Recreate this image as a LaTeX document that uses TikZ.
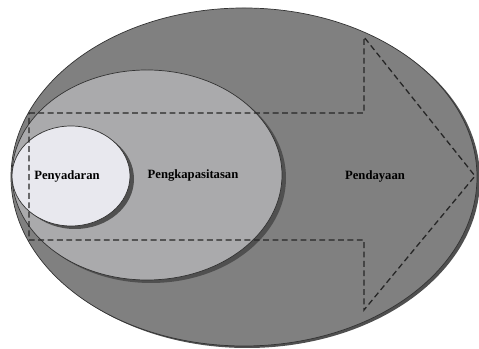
\documentclass[tikz,border=0pt]{standalone}
\usepackage{fontspec}
\setmainfont{Liberation Serif}
\definecolor{outergray}{RGB}{128,128,128}
\definecolor{midgray}{RGB}{170,170,172}
\definecolor{innergray}{RGB}{232,232,238}
\definecolor{shadowgray}{RGB}{80,80,80}
\tikzset{
	ring/.style={draw=black!80,line width=0.6pt},
	shade/.style={fill=shadowgray,draw=none},
	lbl/.style={font=\bfseries\fontsize{10.8}{13}\selectfont}
}

\begin{document}
\begin{tikzpicture}[x=0.03cm,y=0.03cm]
	\useasboundingbox (0,0) rectangle (479,349);
	% outer
	\fill[shade] (247,170) ellipse [x radius=233,y radius=169];
	\draw[ring,fill=outergray] (244,172) ellipse [x radius=233,y radius=169];
	% middle
	\fill[shade] (151,171) ellipse [x radius=135,y radius=105];
	\draw[ring,fill=midgray] (147,174) ellipse [x radius=135,y radius=105];
	% inner
	\fill[shade] (75,170) ellipse [x radius=59,y radius=50];
	\draw[ring,fill=innergray] (71,173) ellipse [x radius=59,y radius=50];
	% dashed arrow
	\draw[dash pattern=on 5pt off 3pt,line width=1.1pt,black!85] (29,236) -- (364,236) -- (364,312)
		-- (475,173) -- (364,39) -- (364,109) -- (29,109) -- cycle;
	\node[lbl] (penyadaran) at (67,173) {Penyadaran};
	\node[lbl] (pengkapasitasan) at (193,173) {Pengkapasitasan};
	\node[lbl] (pendayaan) at (375,173) {Pendayaan};
\end{tikzpicture}
\end{document}
